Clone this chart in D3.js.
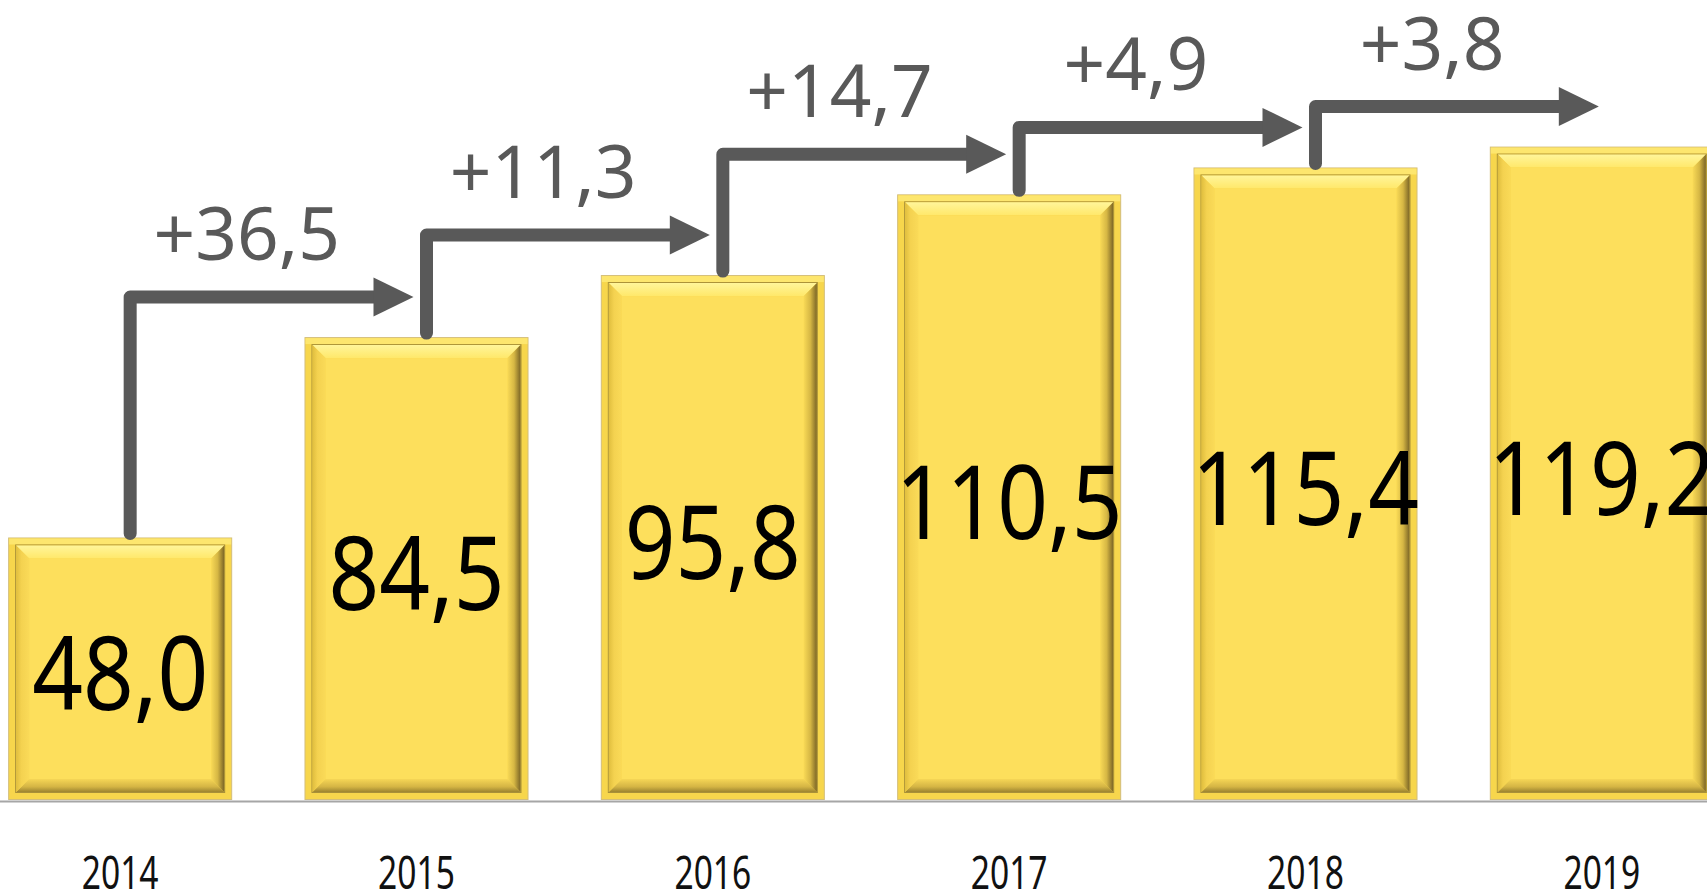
<!DOCTYPE html>
<html><head><meta charset="utf-8">
<script src="https://cdn.jsdelivr.net/npm/d3@7"></script>
<style>html,body{margin:0;padding:0;background:#fff;overflow:hidden}</style>
</head><body><svg id="chart" width="1707" height="895"></svg>
<script>
// ---- data ----
const years = ["2014", "2015", "2016", "2017", "2018", "2019"];
const values = [48.0, 84.5, 95.8, 110.5, 115.4, 119.2];

// ---- layout ----
const W = 1707, H = 895;
const svg = d3.select("#chart");
const locale = d3.formatLocale({decimal: ",", thousands: " ", grouping: [3], currency: ["", ""]});
const fmt = locale.format(".1f");
const fmtInc = locale.format("+.1f");

const x = d3.scaleBand().domain(years).range([-28, 1750]).paddingInner(0.244).paddingOuter(0.122);
const y = d3.scaleLinear().domain([0, 120]).range([801, 801 - 120 * 5.49]);

const defs = svg.append("defs");
function grad(id, x2, y2, stops) {
  const g = defs.append("linearGradient").attr("id", id)
    .attr("x1", 0).attr("y1", 0).attr("x2", x2).attr("y2", y2);
  stops.forEach(([o, c]) => g.append("stop").attr("offset", o).attr("stop-color", c));
}
grad("gTop", 0, 1, [[0, "#FFF59A"], [1, "#FFE86A"]]);
grad("gBot", 0, 1, [[0, "#F6D656"], [0.6, "#D4B444"], [1, "#9C8430"]]);
grad("gLeft", 1, 0, [[0, "#E0BE3E"], [0.4, "#F4D250"], [1, "#FADA58"]]);
grad("gRight", 1, 0, [[0, "#F8D956"], [0.5, "#D6B744"], [1, "#7C6626"]]);

// baseline
svg.append("line").attr("x1", 0).attr("x2", W).attr("y1", y(0) + 0.5).attr("y2", y(0) + 0.5)
  .attr("stroke", "#A6A6A6").attr("stroke-width", 2);

// bars
const bars = svg.selectAll("g.bar").data(years.map((k, i) => ({k, v: values[i]})))
  .join("g").attr("class", "bar")
  .attr("transform", d => `translate(${x(d.k)},${y(d.v)})`);

bars.each(function(d) {
  const g = d3.select(this);
  const w = x.bandwidth(), h = y(0) - y(d.v) - 1;
  const i = 8, b = 13;
  g.append("rect").attr("x", 0.5).attr("y", 0.5).attr("width", w - 1).attr("height", h - 1)
    .attr("fill", "#F7D64C").attr("stroke", "#D3BE7A").attr("stroke-width", 1);
  g.append("rect").attr("x", 1).attr("y", 1).attr("width", w - 2).attr("height", i - 2)
    .attr("fill", "#FDE66E");
  g.append("rect").attr("x", i - 0.5).attr("y", i - 0.5).attr("width", w - 2 * i + 1).attr("height", h - 2 * i + 1)
    .attr("fill", "none").attr("stroke", "#A89038").attr("stroke-width", 1);
  const P = pts => pts.map(p => p.join(",")).join(" ");
  g.append("polygon").attr("points", P([[i, i], [w - i, i], [w - i - b, i + b], [i + b, i + b]])).attr("fill", "url(#gTop)");
  g.append("polygon").attr("points", P([[i, h - i], [w - i, h - i], [w - i - b, h - i - b], [i + b, h - i - b]])).attr("fill", "url(#gBot)");
  g.append("polygon").attr("points", P([[i, i], [i + b, i + b], [i + b, h - i - b], [i, h - i]])).attr("fill", "url(#gLeft)");
  g.append("polygon").attr("points", P([[w - i, i], [w - i - b, i + b], [w - i - b, h - i - b], [w - i, h - i]])).attr("fill", "url(#gRight)");
  g.append("rect").attr("x", i + b).attr("y", i + b).attr("width", w - 2 * (i + b)).attr("height", h - 2 * (i + b))
    .attr("fill", "#FDDF5C");
});

// value labels
svg.selectAll("g.vl").data(years.map((k, i) => ({k, v: values[i]})))
  .join("g").attr("class", "vl")
  .attr("transform", d => `translate(${x(d.k) + x.bandwidth() / 2},${(y(d.v) + y(0)) / 2 + 41}) scale(0.87,1)`)
  .append("text").attr("text-anchor", "middle")
  .attr("font-family", "'Noto Sans', 'Open Sans', sans-serif").attr("font-size", 102)
  .attr("fill", "#000").text(d => fmt(d.v));

// year labels
svg.selectAll("g.yl").data(years)
  .join("g").attr("class", "yl")
  .attr("transform", d => `translate(${x(d) + x.bandwidth() / 2},889) scale(0.73,1)`)
  .append("text").attr("text-anchor", "middle")
  .attr("font-family", "'Noto Sans', 'Open Sans', sans-serif").attr("font-size", 46)
  .attr("fill", "#111").text(d => d);

// increment arrows
const steps = d3.range(values.length - 1).map(i => ({
  from: years[i], to: years[i + 1], v0: values[i], v1: values[i + 1], d: values[i + 1] - values[i]
}));
const ARROW = "#595959";
const ag = svg.selectAll("g.arr").data(steps).join("g").attr("class", "arr");
ag.each(function(s) {
  const g = d3.select(this);
  const vx = x(s.from) + x.bandwidth() / 2 + 10;
  const bottom = y(s.v0) - 4;
  const hy = y(s.v1) - 40;
  const tip = x(s.to) + x.bandwidth() / 2 - 3;
  const hl = 40, hw = 19.5;
  g.append("path").attr("d", `M${vx},${bottom}L${vx},${hy}L${tip - hl + 2},${hy}`)
    .attr("fill", "none").attr("stroke", ARROW).attr("stroke-width", 13)
    .attr("stroke-linejoin", "round").attr("stroke-linecap", "round");
  g.append("polygon").attr("points", `${tip - hl},${hy - hw} ${tip},${hy} ${tip - hl},${hy + hw}`)
    .attr("fill", ARROW);
  g.append("text").attr("x", (vx + tip) / 2 - 25).attr("y", hy - 37)
    .attr("text-anchor", "middle").attr("font-family", "'Noto Sans', 'Open Sans', sans-serif")
    .attr("font-size", 73).attr("fill", ARROW).text(fmtInc(s.d));
});
</script></body></html>
